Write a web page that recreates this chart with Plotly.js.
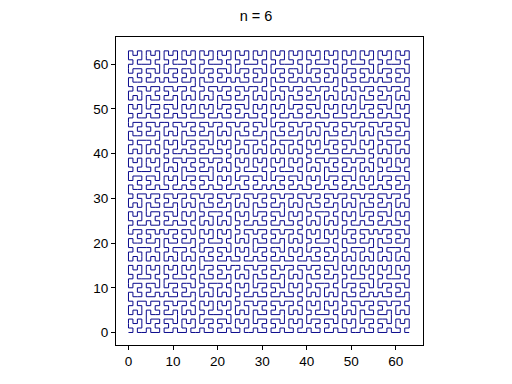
<!DOCTYPE html>
<html>
<head>
<meta charset="utf-8">
<script src="https://cdn.plot.ly/plotly-3.0.1.min.js"></script>
<style>html,body{margin:0;padding:0;background:#fff;}</style>
</head>
<body>
<div id="chart" style="width:512px;height:384px;"></div>
<script>
// Hilbert curve of order n (the chart's data is the curve itself)
const order = 6;
const xTicks = [0, 10, 20, 30, 40, 50, 60];
const yTicks = [0, 10, 20, 30, 40, 50, 60];
const titleText = 'n = 6';

function d2xy(side, d) {
  let x = 0, y = 0, t = d;
  for (let s = 1; s < side; s *= 2) {
    const rx = 1 & Math.floor(t / 2);
    const ry = 1 & (t ^ rx);
    if (ry === 0) {
      if (rx === 1) { x = s - 1 - x; y = s - 1 - y; }
      const tmp = x; x = y; y = tmp;
    }
    x += s * rx; y += s * ry;
    t = Math.floor(t / 4);
  }
  return [x, y];
}

const side = Math.pow(2, order);
const xs = [], ys = [];
for (let d = 0; d < side * side; d++) {
  const p = d2xy(side, d);
  xs.push(p[0]); ys.push(p[1]);
}

const trace = {
  x: xs, y: ys, type: 'scatter', mode: 'lines',
  line: {color: '#0a0a8c', width: 1},
  hoverinfo: 'skip'
};

const axisCommon = {
  showgrid: false, zeroline: false,
  showline: true, mirror: true, linecolor: '#000', linewidth: 1,
  ticks: 'outside', ticklen: 4, tickwidth: 1, tickcolor: '#000',
  tickfont: {family: 'Liberation Sans, Arial, sans-serif', size: 13.5, color: '#000'},
  tickmode: 'array'
};

const layout = {
  width: 512, height: 384,
  margin: {l: 116, r: 89, t: 37, b: 39},
  paper_bgcolor: '#fff', plot_bgcolor: '#fff',
  showlegend: false,
  title: {text: titleText, x: 0.5, xanchor: 'center', y: 0.958, yanchor: 'middle',
          font: {family: 'Liberation Sans, Arial, sans-serif', size: 14.5, color: '#000'}},
  xaxis: Object.assign({}, axisCommon, {range: [-2.8, 66.1], tickvals: xTicks, ticktext: xTicks.map(String)}),
  yaxis: Object.assign({}, axisCommon, {range: [-2.8, 66.1], tickvals: yTicks, ticktext: yTicks.map(String)})
};

Plotly.newPlot('chart', [trace], layout, {staticPlot: true, displayModeBar: false});
</script>
</body>
</html>
